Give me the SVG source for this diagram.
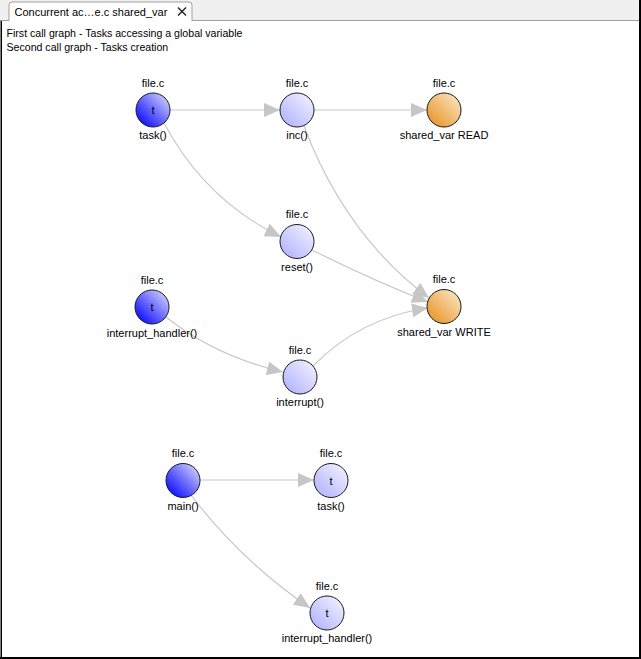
<svg xmlns="http://www.w3.org/2000/svg" width="641" height="659" viewBox="0 0 641 659">
<style>
text{font-family:"Liberation Sans",Arial,sans-serif;fill:#000;}
.lbl{font-size:11px;text-anchor:middle;}
.hdr{font-size:10.6px;}
.edge{fill:none;stroke:#c8c8c8;stroke-width:1.2;marker-end:url(#arr);}
.node{stroke:#1a1a1a;stroke-width:1;}
.blue{fill:url(#gBlue);}
.light{fill:url(#gLight);}
.orange{fill:url(#gOrange);}
</style>
<defs>
<linearGradient id="gBlue" x1="0" y1="1" x2="1" y2="0">
<stop offset="0.1" stop-color="#0a0aff"/>
<stop offset="1" stop-color="#e4e4ff"/>
</linearGradient>
<linearGradient id="gLight" x1="0" y1="1" x2="1" y2="0">
<stop offset="0.1" stop-color="#b4b4ff"/>
<stop offset="1" stop-color="#f6f6ff"/>
</linearGradient>
<linearGradient id="gOrange" x1="0" y1="1" x2="1" y2="0">
<stop offset="0.1" stop-color="#e8962a"/>
<stop offset="1" stop-color="#fdeccf"/>
</linearGradient>
<marker id="arr" markerUnits="userSpaceOnUse" viewBox="0 0 16 14" markerWidth="16" markerHeight="14" refX="16" refY="7" orient="auto">
<path d="M0,0 L16,7 L0,14 Z" fill="#c6c6c6"/>
</marker>
</defs>
<rect x="0" y="0" width="641" height="659" fill="#ffffff"/>
<g id="frame">
<rect x="0" y="0" width="641" height="20" fill="#f0f0f0"/>
<line x1="0" y1="20.5" x2="641" y2="20.5" stroke="#a0a0a0" stroke-width="1"/>
<path d="M9,21 L9,5 Q9,2 12,2 L189,2 Q192,2 192,5 L192,21 Z" fill="#ffffff" stroke="#a0a0a0" stroke-width="1"/>
<rect x="9.5" y="20" width="182" height="2" fill="#ffffff"/>
<text x="14.5" y="15.5" style="font-size:11px;">Concurrent ac…e.c shared_var</text>
<path d="M178,7.5 L186,15.5 M186,7.5 L178,15.5" stroke="#222" stroke-width="1.4"/>
<rect x="0" y="21" width="1" height="638" fill="#808080"/>
<rect x="1" y="21" width="1" height="638" fill="#000"/>
<rect x="639" y="0" width="2" height="659" fill="#000"/>
<rect x="0" y="657" width="641" height="2" fill="#000"/>
</g>
<g id="header">
<text class="hdr" x="6.5" y="37">First call graph - Tasks accessing a global variable</text>
<text class="hdr" x="6.5" y="50.5">Second call graph - Tasks creation</text>
</g>
<g id="connectors">
<path class="edge" d="M170,110 L280,110"/>
<path class="edge" d="M314,110 L427,110"/>
<path class="edge" d="M164,123 Q205,200 281,237"/>
<path class="edge" d="M304,126 Q345,235 429,298"/>
<path class="edge" d="M312,250 Q372,280 428,302"/>
<path class="edge" d="M166,317 Q215,356 283,372"/>
<path class="edge" d="M313,366 Q360,318 428,308"/>
<path class="edge" d="M200,480 L314,480"/>
<path class="edge" d="M191,495 Q240,560 310,608"/>
</g>
<g id="n1"><text class="lbl" x="153" y="86.5">file.c</text><circle class="node blue" cx="153" cy="110" r="17"/><text class="lbl" x="153" y="114">t</text><text class="lbl" x="153" y="139">task()</text></g>
<g id="n2"><text class="lbl" x="297" y="86.5">file.c</text><circle class="node light" cx="297" cy="110" r="17"/><text class="lbl" x="297" y="139">inc()</text></g>
<g id="n3"><text class="lbl" x="444" y="86.5">file.c</text><circle class="node orange" cx="444" cy="110" r="17"/><text class="lbl" x="444" y="139">shared_var READ</text></g>
<g id="n4"><text class="lbl" x="297" y="218">file.c</text><circle class="node light" cx="297" cy="241.5" r="17"/><text class="lbl" x="297" y="270.5">reset()</text></g>
<g id="n5"><text class="lbl" x="444" y="283">file.c</text><circle class="node orange" cx="444" cy="306.5" r="17"/><text class="lbl" x="444" y="335.5">shared_var WRITE</text></g>
<g id="n6"><text class="lbl" x="152" y="283.5">file.c</text><circle class="node blue" cx="152" cy="307" r="17"/><text class="lbl" x="152" y="311">t</text><text class="lbl" x="152" y="336.5">interrupt_handler()</text></g>
<g id="n7"><text class="lbl" x="300" y="353.5">file.c</text><circle class="node light" cx="300" cy="377" r="17"/><text class="lbl" x="300" y="406">interrupt()</text></g>
<g id="n8"><text class="lbl" x="183" y="457">file.c</text><circle class="node blue" cx="183" cy="480.5" r="17"/><text class="lbl" x="183" y="509.5">main()</text></g>
<g id="n9"><text class="lbl" x="331" y="457">file.c</text><circle class="node light" cx="331" cy="480.5" r="17"/><text class="lbl" x="331" y="484.5">t</text><text class="lbl" x="331" y="509.5">task()</text></g>
<g id="n10"><text class="lbl" x="327" y="590">file.c</text><circle class="node light" cx="327" cy="613" r="17"/><text class="lbl" x="327" y="617">t</text><text class="lbl" x="327" y="642">interrupt_handler()</text></g>
</svg>
